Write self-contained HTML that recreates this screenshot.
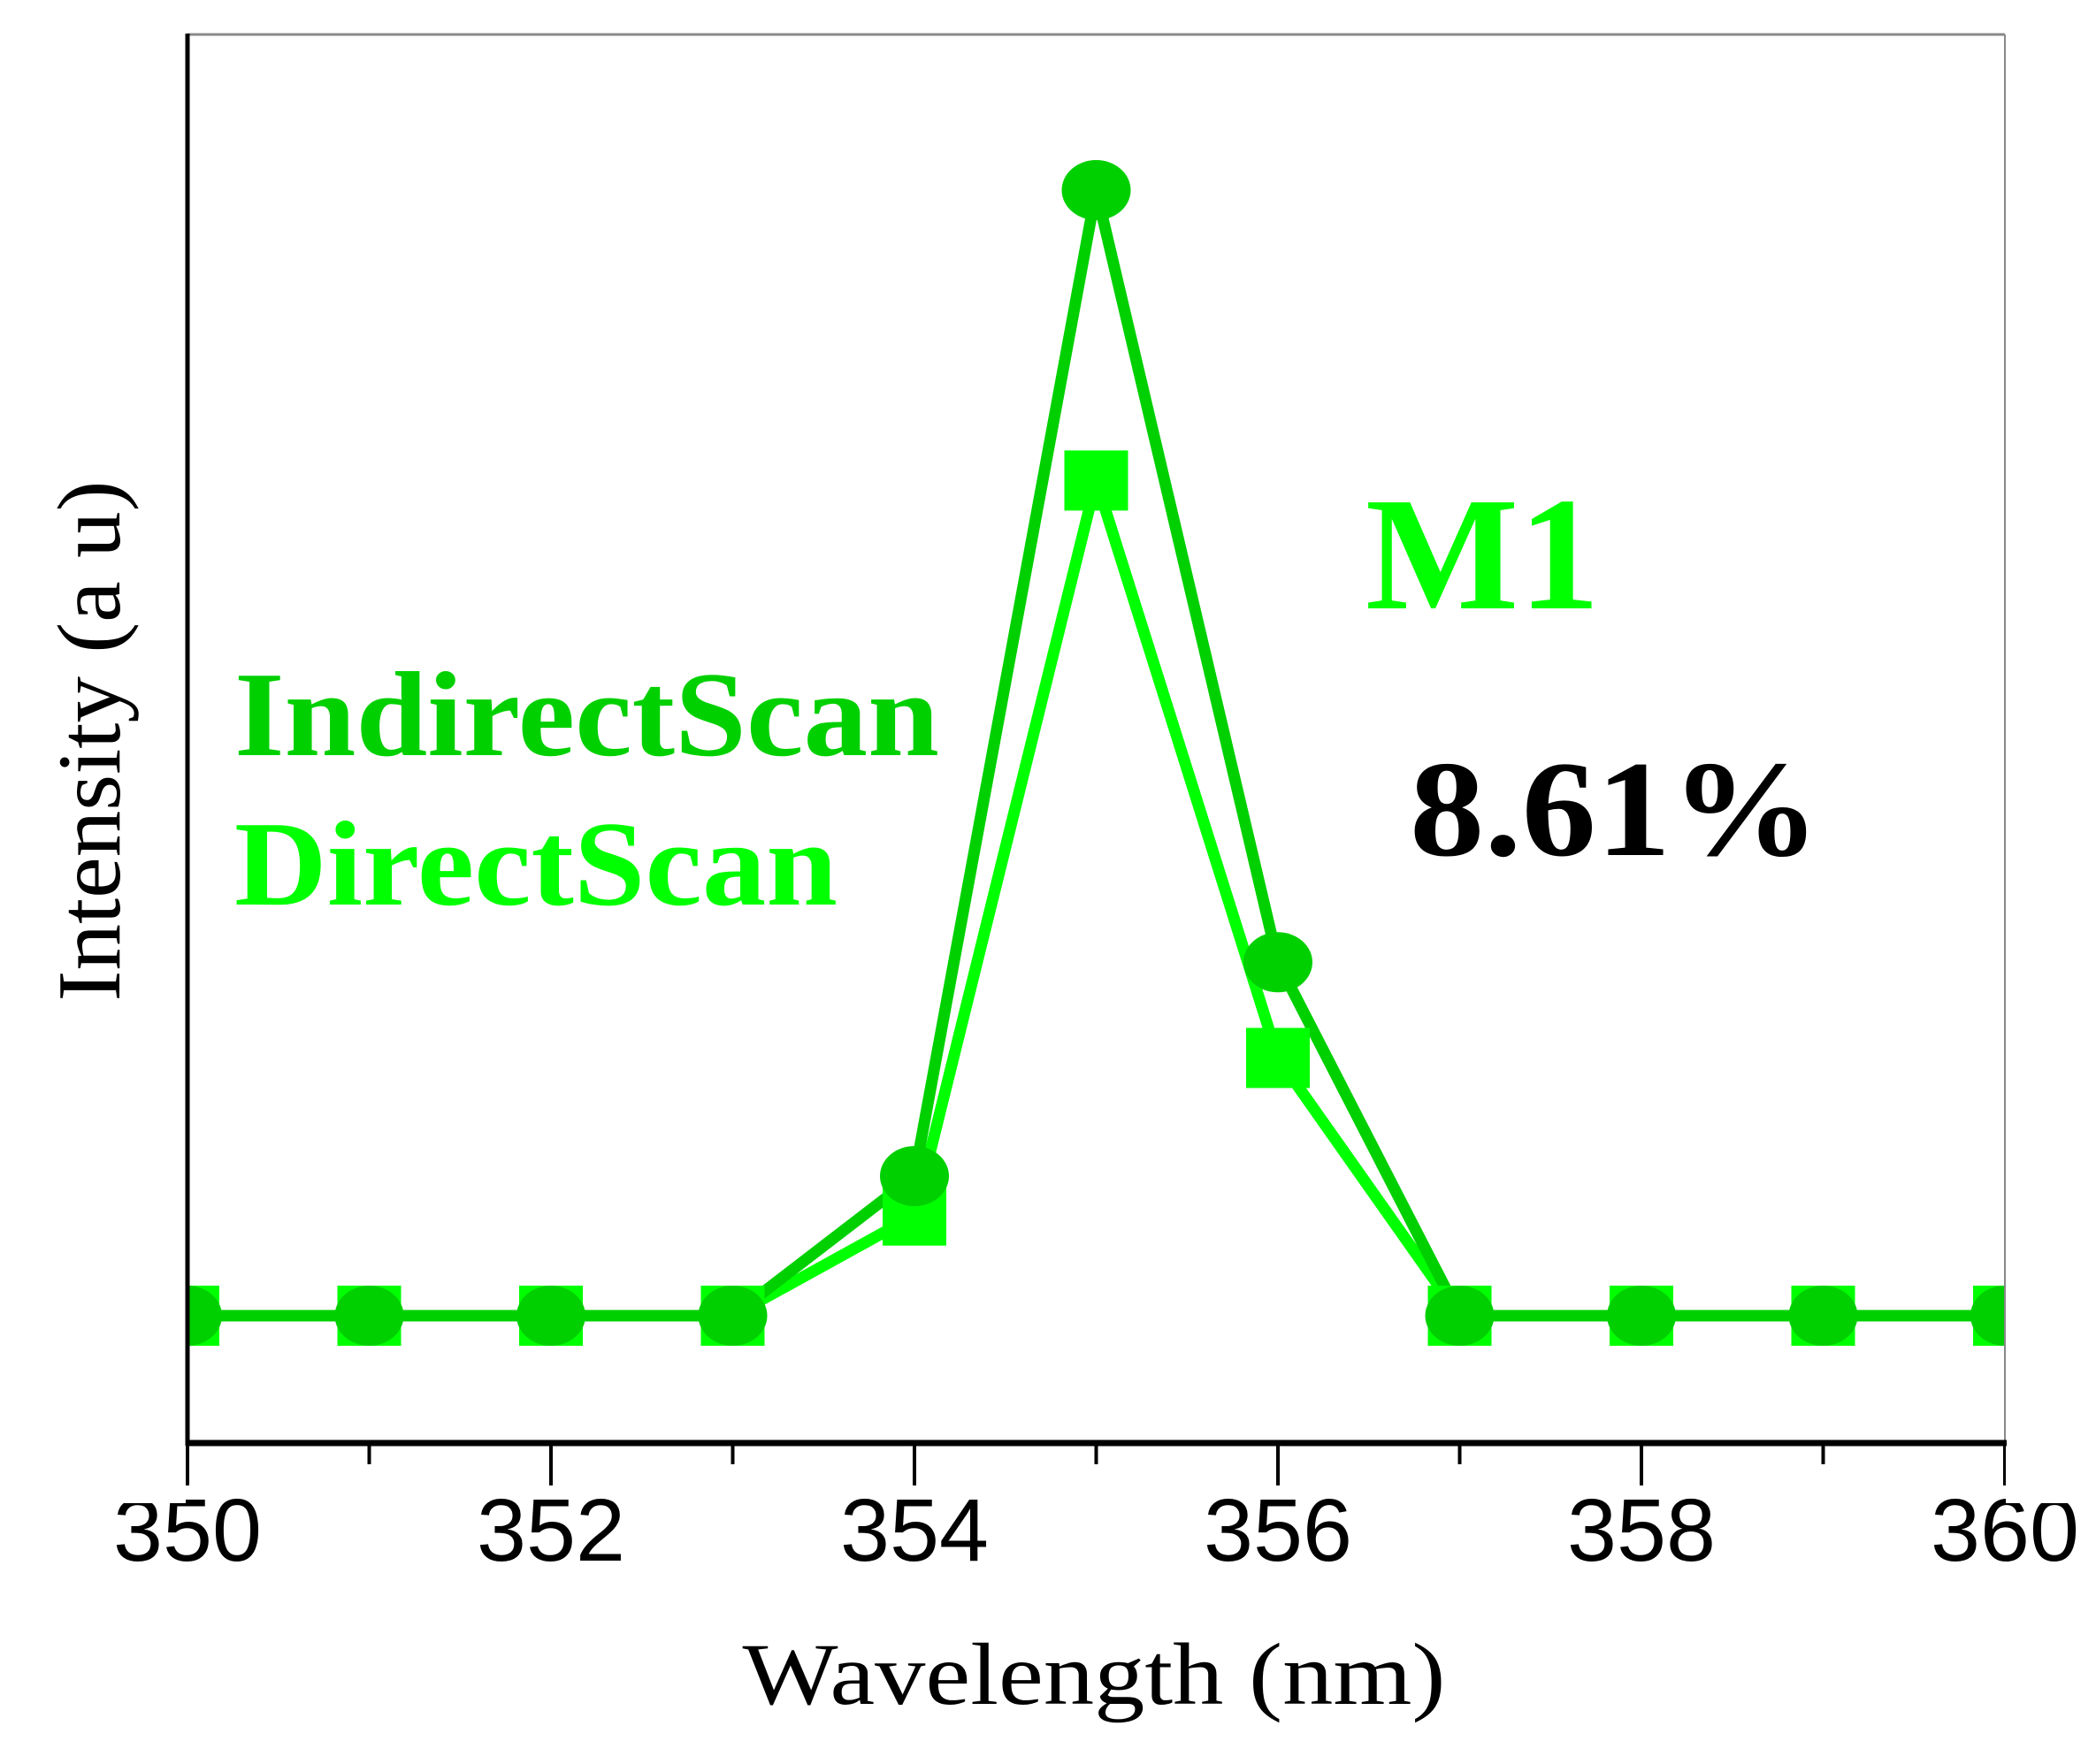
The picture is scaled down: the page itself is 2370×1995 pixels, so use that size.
<!DOCTYPE html>
<html><head><meta charset="utf-8"><style>html,body{margin:0;padding:0;background:#fff}svg{display:block}</style></head>
<body>
<svg id="chart" width="2370" height="1995" viewBox="0 0 2370 1995" xmlns="http://www.w3.org/2000/svg">
<g id="plot"></g>
<text transform="translate(135,838) rotate(-90)" text-anchor="middle" font-family="Liberation Serif, serif" font-size="102" textLength="589" lengthAdjust="spacingAndGlyphs" fill="#000">Intensity (a u)</text>
<text x="1237" y="1927" text-anchor="middle" font-family="Liberation Serif, serif" font-size="100" textLength="795" lengthAdjust="spacingAndGlyphs" fill="#000">Wavelength (nm)</text>
<text x="265" y="854" font-family="Liberation Serif, serif" font-weight="bold" font-size="137" textLength="797" lengthAdjust="spacingAndGlyphs" fill="#00d000">IndirectScan</text>
<text x="265" y="1023" font-family="Liberation Serif, serif" font-weight="bold" font-size="137" textLength="682" lengthAdjust="spacingAndGlyphs" fill="#00ff00">DirectScan</text>
<text x="1544" y="688" font-family="Liberation Serif, serif" font-weight="bold" font-size="183" textLength="265" lengthAdjust="spacingAndGlyphs" fill="#00ff00">M1</text>
<text x="1594" y="967" font-family="Liberation Serif, serif" font-weight="bold" font-size="155" textLength="464" lengthAdjust="spacingAndGlyphs" fill="#000">8.61%</text>
<script>
const wavelengths = [350,351,352,353,354,355,356,357,358,359,360];
const indirectScan = [0,0,0,0,12.4,100,31.4,0,0,0,0];
const directScan = [0,0,0,0,8.9,74.2,22.9,0,0,0,0];
const xTickLabels = ["350","352","354","356","358","360"];
const xTickValues = [350,352,354,356,358,360];
const xMinorValues = [351,353,355,357,359];

const NS = "http://www.w3.org/2000/svg";
const L = 212, R = 2267, T = 39, B = 1632;
function xs(v){ return L + (v - 350) / 10 * (R - L); }
function ys(v){ return 1488 - v * 12.73; }
const g = document.getElementById('plot');
function mk(tag, attrs){ const e = document.createElementNS(NS, tag); for (const k in attrs) e.setAttribute(k, attrs[k]); g.appendChild(e); return e; }

let e = mk('line',{x1:L,y1:T,x2:R,y2:T,stroke:'#888','stroke-width':3});



xTickValues.forEach((v,i)=>{
  const t = mk('line',{x1:xs(v),y1:B,x2:xs(v),y2:B+48,stroke:'#000','stroke-width':4});
  
  
  const lb = mk('text',{x:xs(v),y:1765,'text-anchor':'middle','font-family':'Liberation Sans, sans-serif','font-size':100,textLength:168,lengthAdjust:'spacingAndGlyphs',fill:'#000'});
  lb.textContent = xTickLabels[i];
  
  
});
xMinorValues.forEach(v=>{
  const t = mk('line',{x1:xs(v),y1:B,x2:xs(v),y2:B+24,stroke:'#000','stroke-width':4});
  
  
});

function series(vals, color, name){
  const p = mk('polyline',{points:vals.map((v,i)=>xs(wavelengths[i])+','+ys(v)).join(' '),fill:'none',stroke:color,'stroke-width':13,'stroke-linejoin':'miter'});
  
  
}
series(directScan,'#00ff00','direct-scan');
series(indirectScan,'#00d000','indirect-scan');
directScan.forEach((v,i)=>{
  const r = mk('rect',{x:xs(wavelengths[i])-36,y:ys(v)-34,width:72,height:68,fill:'#00ff00'});
  
  
});
indirectScan.forEach((v,i)=>{
  const c = mk('ellipse',{cx:xs(wavelengths[i]),cy:ys(v),rx:39,ry:34,fill:'#00d000'});
  
  
});
e = mk('rect',{x:0,y:0,width:L-2,height:1700,fill:'#fff'});


e = mk('rect',{x:R+1,y:0,width:2370-R,height:1700,fill:'#fff'});


e = mk('line',{x1:R,y1:T,x2:R,y2:B,stroke:'#888','stroke-width':2});


e = mk('line',{x1:L,y1:T-1,x2:L,y2:B+3,stroke:'#000','stroke-width':5});


e = mk('line',{x1:L-2,y1:B,x2:R+2,y2:B,stroke:'#000','stroke-width':7});


</script>
</svg>
</body></html>
